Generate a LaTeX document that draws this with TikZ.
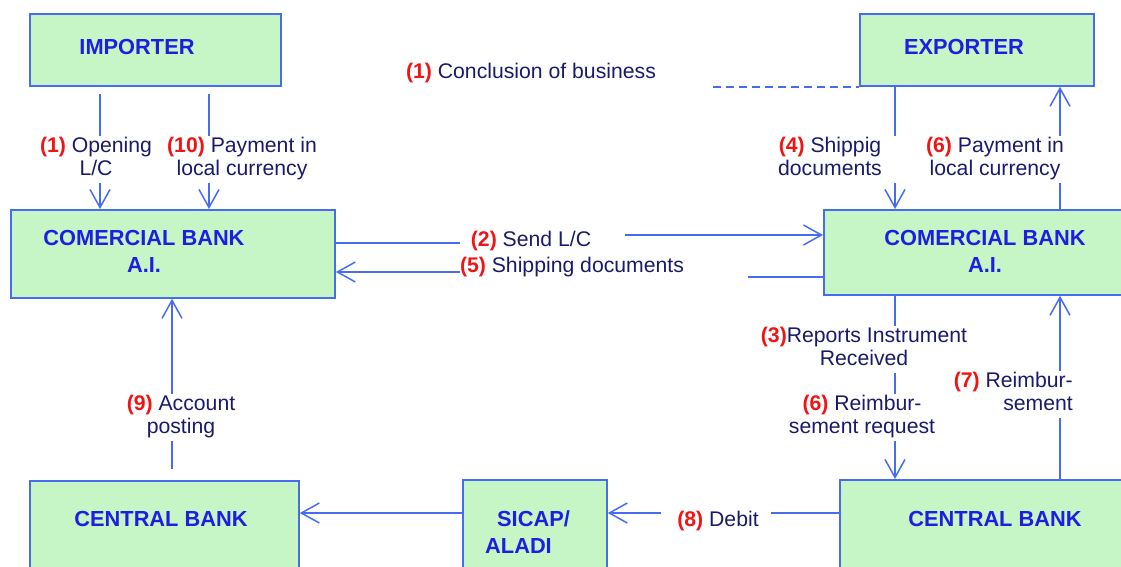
\documentclass[tikz,border=0pt]{standalone}
\usepackage{fontspec}
\setmainfont{Liberation Sans}
\usetikzlibrary{arrows.meta}

\definecolor{boxfill}{RGB}{198,245,198}
\definecolor{edgeblue}{RGB}{72,108,240}
\definecolor{boxtext}{RGB}{30,30,225}
\definecolor{labeltext}{RGB}{26,26,105}
\definecolor{stepred}{RGB}{240,20,20}

\newcommand{\stepno}[1]{\textcolor{stepred}{\bfseries #1}}

\tikzset{
  box/.style={draw=edgeblue, line width=1.8pt, fill=boxfill, anchor=north west, inner sep=0pt},
  boxlabel/.style={text=boxtext, font=\fontsize{21.8}{27}\selectfont\bfseries, align=center, inner sep=0pt},
  flowlabel/.style={text=labeltext, font=\fontsize{21.2}{23}\selectfont, align=center,
    inner xsep=2pt, inner ysep=1pt, execute at begin node=\strut, execute at end node=\strut},
  link/.style={draw=edgeblue, line width=1.5pt},
  flow/.style={link, -{Straight Barb[length=18pt,width=20pt]}},
  agreement/.style={link, line width=1.8pt, dash pattern=on 8pt off 5pt},
}

\begin{document}
\begin{tikzpicture}[x=1pt,y=-1pt]
\useasboundingbox (0,0) rectangle (1121,567);
\clip (0,0) rectangle (1121,567);

% participants
\node[box, minimum width=251pt, minimum height=72pt]  (imp)   at (29,13)  {};
\node[box, minimum width=234pt, minimum height=72pt]  (exp)   at (859,13) {};
\node[box, minimum width=324pt, minimum height=88pt]  (cbl)   at (10,209) {};
\node[box, minimum width=320pt, minimum height=85pt]  (cbr)   at (823,209) {};
\node[box, minimum width=269pt, minimum height=110pt] (cenl)  at (29,480) {};
\node[box, minimum width=144pt, minimum height=110pt] (sicap) at (462,479) {};
\node[box, minimum width=300pt, minimum height=110pt] (cenr)  at (839,479) {};

\node[boxlabel] (imp-t)  at (137,47)    {IMPORTER};
\node[boxlabel] (exp-t)  at (964,47)    {EXPORTER};
\node[boxlabel] (cbl-t)  at (144,251.5) {COMERCIAL BANK\\A.I.};
\node[boxlabel] (cbr-t)  at (985,251.5) {COMERCIAL BANK\\A.I.};
\node[boxlabel] (cenl-t) at (161,519)   {CENTRAL BANK};
\node[boxlabel, align=left, anchor=west] (sicap-t) at (485,532.5) {\hspace*{12pt}SICAP/\\ALADI};
\node[boxlabel] (cenr-t) at (995,519)   {CENTRAL BANK};

% flow labels
\node[flowlabel] (l-concl) at (531,74)    {\stepno{(1)} Conclusion of business};
\node[flowlabel] (l-open)  at (96,159.4)  {\stepno{(1)} Opening\\L/C};
\node[flowlabel] (l-pay10) at (242,159.4) {\stepno{(10)} Payment in\\local currency};
\node[flowlabel] (l-ship4) at (830,159.4) {\stepno{(4)} Shippig\\documents};
\node[flowlabel] (l-pay6)  at (995,159.4) {\stepno{(6)} Payment in\\local currency};
\node[flowlabel] (l-send)  at (531,242)   {\stepno{(2)} Send L/C};
\node[flowlabel, inner xsep=0pt] (l-ship5) at (572,268) {\stepno{(5)} Shipping documents};
\node[flowlabel] (l-rep)   at (864,349.4) {\stepno{(3)}Reports Instrument\\Received};
\node[flowlabel] (l-req)   at (862,417.4) {\stepno{(6)} Reimbur-\\sement request};
\node[flowlabel, align=right, anchor=east] (l-reimb) at (1075,394.4) {\stepno{(7)} Reimbur-\\sement};
\node[flowlabel] (l-post)  at (181,417.4) {\stepno{(9)} Account\\posting};
\node[flowlabel] (l-debit) at (718,522)   {\stepno{(8)} Debit};

% connector lanes
\coordinate (xa) at (100,0);
\coordinate (xb) at (209,0);
\coordinate (xc) at (895,0);
\coordinate (xd) at (1060,0);
\coordinate (xe) at (172,0);
\coordinate (ya) at (0,243);
\coordinate (yb) at (0,235);
\coordinate (yc) at (0,272);
\coordinate (yd) at (0,277);
\coordinate (ye) at (0,513);
\coordinate (dashstart) at (713,0);

% (1) conclusion of business
\draw[agreement] (dashstart |- exp.south west) -- (exp.south west);

% importer -> commercial bank
\draw[link, shorten <=7pt] (imp.south -| xa) -- (l-open.north -| xa);
\draw[flow] (l-open.south -| xa) -- (cbl.north -| xa);
\draw[link, shorten <=7pt] (imp.south -| xb) -- (l-pay10.north -| xb);
\draw[flow] (l-pay10.south -| xb) -- (cbl.north -| xb);

% exporter <-> commercial bank
\draw[link] (exp.south -| xc) -- (l-ship4.north -| xc);
\draw[flow] (l-ship4.south -| xc) -- (cbr.north -| xc);
\draw[link] (cbr.north -| xd) -- (l-pay6.south -| xd);
\draw[flow] (l-pay6.north -| xd) -- (exp.south -| xd);

% between the commercial banks
\draw[link, shorten >=9pt] (cbl.east |- ya) -- (l-send.west |- ya);
\draw[flow, shorten <=32pt] (l-send.east |- yb) -- (cbr.west |- yb);
\draw[link, shorten >=64pt] (cbr.west |- yd) -- (l-ship5.east |- yd);
\draw[flow] (l-ship5.west |- yc) -- (cbl.east |- yc);

% commercial bank <-> central bank (exporter side)
\draw[link] (cbr.south -| xc) -- (l-rep.north -| xc);
\draw[link] (l-rep.south -| xc) -- (l-req.north -| xc);
\draw[flow] (l-req.south -| xc) -- (cenr.north -| xc);
\draw[link] (cenr.north -| xd) -- (l-reimb.south -| xd);
\draw[flow] (l-reimb.north -| xd) -- (cbr.south -| xd);

% clearing through SICAP/ALADI
\draw[link, shorten >=10pt] (cenr.west |- ye) -- (l-debit.east |- ye);
\draw[flow, shorten <=14pt] (l-debit.west |- ye) -- (sicap.east |- ye);
\draw[flow] (sicap.west |- ye) -- (cenl.east |- ye);

% central bank -> commercial bank (importer side)
\draw[link, shorten <=11pt] (cenl.north -| xe) -- (l-post.south -| xe);
\draw[flow] (l-post.north -| xe) -- (cbl.south -| xe);
\end{tikzpicture}
\end{document}
